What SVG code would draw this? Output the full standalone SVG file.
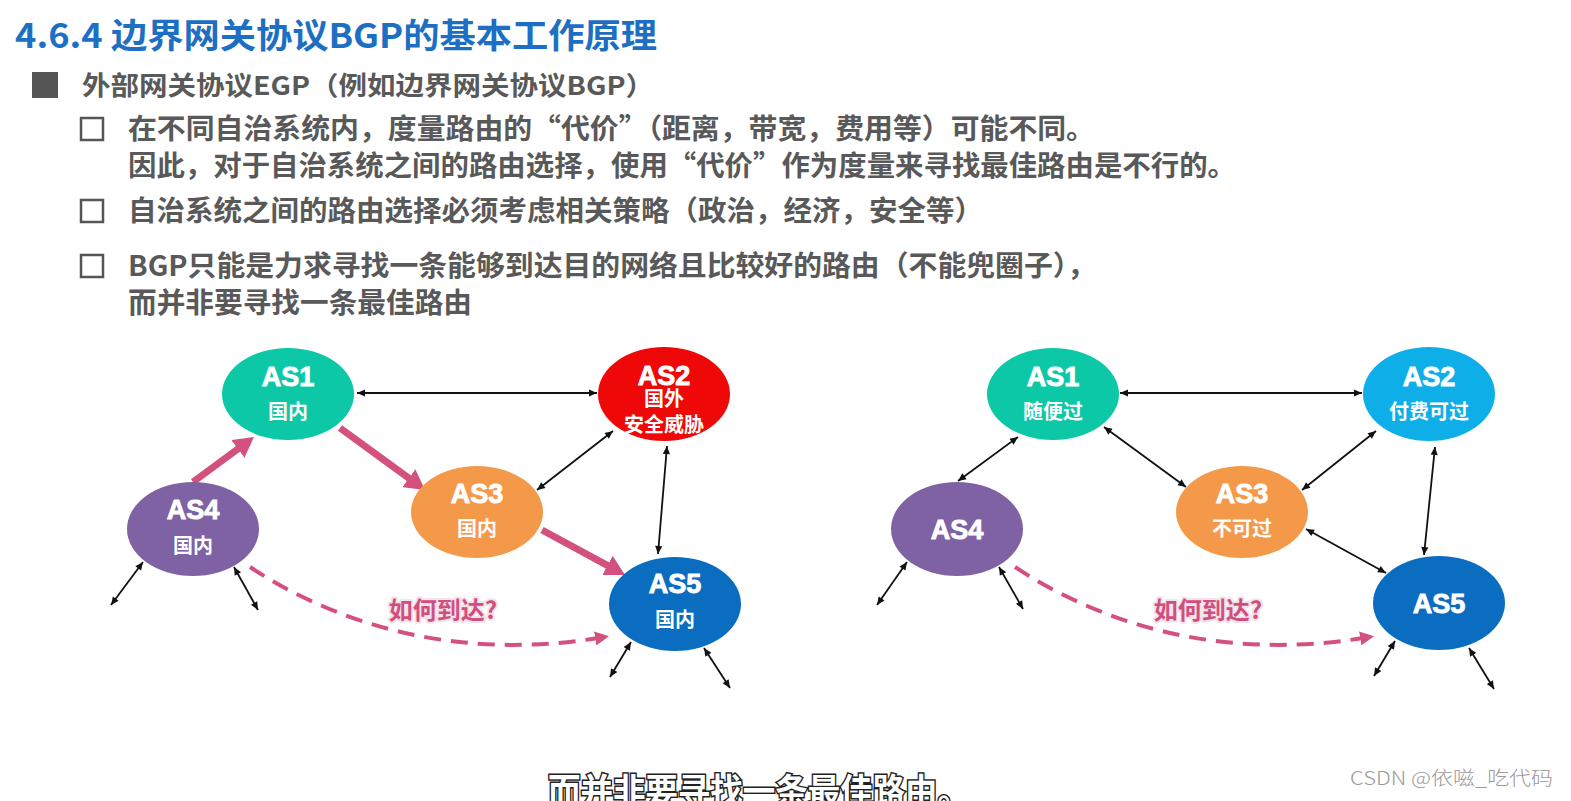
<svg xmlns="http://www.w3.org/2000/svg" width="1571" height="801" viewBox="0 0 1571 801">
<style>
.title{font-family:"Noto Sans CJK SC","Liberation Sans",sans-serif;font-weight:700;font-size:34px;fill:#1c6fc3}
.hdr{font-family:"Noto Sans CJK SC","Liberation Sans",sans-serif;font-weight:700;font-size:26px;fill:#595959}
.body{font-family:"Noto Sans CJK SC","Liberation Sans",sans-serif;font-weight:700;font-size:28px;fill:#595959}
.as{font-family:"Liberation Sans","Noto Sans CJK SC",sans-serif;font-weight:700;font-size:27px;fill:#fff;text-anchor:middle;stroke:#fff;stroke-width:0.9}
.sub{font-family:"Noto Sans CJK SC","Liberation Sans",sans-serif;font-weight:700;font-size:20px;fill:#fff;text-anchor:middle}
.ask{font-family:"Noto Sans CJK SC","Liberation Sans",sans-serif;font-weight:700;font-size:24px;fill:#d14f7f;text-anchor:middle;stroke:#f3e3ea;stroke-width:4;paint-order:stroke;stroke-linejoin:round}
.blk{stroke:#111;stroke-width:1.8;fill:none;marker-start:url(#ah);marker-end:url(#ah)}
.pink{stroke:#d4507e;stroke-width:7;fill:none;marker-end:url(#pk)}
.dash{stroke:#d4507e;stroke-width:4;fill:none;stroke-dasharray:17 10;marker-end:url(#pd)}
.box{fill:none;stroke:#555;stroke-width:2.5}
</style>
<defs>
<marker id="ah" viewBox="0 0 10 10" refX="10" refY="5" markerWidth="9" markerHeight="8" markerUnits="userSpaceOnUse" orient="auto-start-reverse"><path d="M0,0.5 L10,5 L0,9.5 z" fill="#111"/></marker>
<marker id="pk" viewBox="0 0 20 22" refX="2" refY="11" markerWidth="20" markerHeight="22" markerUnits="userSpaceOnUse" orient="auto"><path d="M0,0 L20,11 L0,22 z" fill="#d4507e"/></marker>
<marker id="pd" viewBox="0 0 10 10" refX="2" refY="5" markerWidth="14" markerHeight="14" markerUnits="userSpaceOnUse" orient="auto"><path d="M0,0 L10,5 L0,10 z" fill="#d4507e"/></marker>
</defs>
<rect width="1571" height="801" fill="#fff"/>

<g id="text">
<text class="title" x="15" y="48" textLength="642" lengthAdjust="spacingAndGlyphs">4.6.4 边界网关协议BGP的基本工作原理</text>
<rect x="32" y="72" width="26" height="26" fill="#555"/>
<text class="hdr" x="82" y="95" textLength="572" lengthAdjust="spacingAndGlyphs">外部网关协议EGP（例如边界网关协议BGP）</text>
<rect class="box" x="81" y="118" width="22" height="22"/>
<text class="body" x="128" y="139" textLength="967" lengthAdjust="spacingAndGlyphs">在不同自治系统内，度量路由的“代价”（距离，带宽，费用等）可能不同。</text>
<text class="body" x="128" y="176" textLength="1108" lengthAdjust="spacingAndGlyphs">因此，对于自治系统之间的路由选择，使用“代价”作为度量来寻找最佳路由是不行的。</text>
<rect class="box" x="81" y="200" width="22" height="22"/>
<text class="body" x="128" y="221" textLength="855" lengthAdjust="spacingAndGlyphs">自治系统之间的路由选择必须考虑相关策略（政治，经济，安全等）</text>
<rect class="box" x="81" y="255" width="22" height="22"/>
<text class="body" x="128" y="276" textLength="968" lengthAdjust="spacingAndGlyphs">BGP只能是力求寻找一条能够到达目的网络且比较好的路由（不能兜圈子），</text>
<text class="body" x="128" y="313" textLength="344" lengthAdjust="spacingAndGlyphs">而并非要寻找一条最佳路由</text>
</g>

<g id="connectors">
<line class="blk" x1="357" y1="393" x2="597" y2="393"/>
<line class="blk" x1="613" y1="431" x2="537" y2="490"/>
<line class="blk" x1="667" y1="446" x2="658" y2="554"/>
<line class="blk" x1="143" y1="562" x2="111" y2="605"/>
<line class="blk" x1="234" y1="567" x2="258" y2="610"/>
<line class="blk" x1="631" y1="642" x2="610" y2="677"/>
<line class="blk" x1="704" y1="648" x2="730" y2="688"/>
<line class="pink" x1="193" y1="482" x2="239.5" y2="447.7"/>
<line class="pink" x1="340" y1="428" x2="410.5" y2="479.4"/>
<line class="pink" x1="542" y1="530" x2="609.2" y2="566.4"/>
<path class="dash" d="M250,567 C330,620 450,662 598,638"/>

<line class="blk" x1="1120" y1="393" x2="1362" y2="393"/>
<line class="blk" x1="1018" y1="437" x2="958" y2="481"/>
<line class="blk" x1="1104" y1="427" x2="1186" y2="487"/>
<line class="blk" x1="1376" y1="431" x2="1302" y2="490"/>
<line class="blk" x1="1435" y1="447" x2="1424" y2="555"/>
<line class="blk" x1="1306" y1="529" x2="1386" y2="573"/>
<line class="blk" x1="907" y1="562" x2="877" y2="605"/>
<line class="blk" x1="999" y1="567" x2="1023" y2="609"/>
<line class="blk" x1="1395" y1="641" x2="1374" y2="676"/>
<line class="blk" x1="1469" y1="648" x2="1494" y2="689"/>
<path class="dash" d="M1015,567 C1095,620 1215,662 1363,638"/>
</g>

<g id="L-AS1"><ellipse cx="288" cy="394" rx="66" ry="46" fill="#0dc8a6"/><text class="as" x="288" y="386">AS1</text><text class="sub" x="288" y="419">国内</text></g>
<g id="L-AS2"><ellipse cx="664" cy="394" rx="66" ry="47" fill="#ee0808"/><text class="as" x="664" y="385">AS2</text><text class="sub" x="664" y="406">国外</text><text class="sub" x="664" y="432">安全威胁</text></g>
<g id="L-AS3"><ellipse cx="477" cy="512" rx="66" ry="46" fill="#f4994a"/><text class="as" x="477" y="503">AS3</text><text class="sub" x="477" y="536">国内</text></g>
<g id="L-AS4"><ellipse cx="193" cy="529" rx="66" ry="47" fill="#7f62a3"/><text class="as" x="193" y="519">AS4</text><text class="sub" x="193" y="553">国内</text></g>
<g id="L-AS5"><ellipse cx="675" cy="604" rx="66" ry="47" fill="#0b6dbf"/><text class="as" x="675" y="593">AS5</text><text class="sub" x="675" y="627">国内</text></g>
<g id="L-ask"><text class="ask" x="443" y="619">如何到达?</text></g>

<g id="R-AS1"><ellipse cx="1053" cy="394" rx="66" ry="46" fill="#0dc8a6"/><text class="as" x="1053" y="386">AS1</text><text class="sub" x="1053" y="419">随便过</text></g>
<g id="R-AS2"><ellipse cx="1429" cy="394" rx="66" ry="47" fill="#0eafe9"/><text class="as" x="1429" y="386">AS2</text><text class="sub" x="1429" y="419">付费可过</text></g>
<g id="R-AS3"><ellipse cx="1242" cy="512" rx="66" ry="46" fill="#f4994a"/><text class="as" x="1242" y="503">AS3</text><text class="sub" x="1242" y="536">不可过</text></g>
<g id="R-AS4"><ellipse cx="957" cy="529" rx="66" ry="47" fill="#7f62a3"/><text class="as" x="957" y="539">AS4</text></g>
<g id="R-AS5"><ellipse cx="1439" cy="603" rx="66" ry="47" fill="#0b6dbf"/><text class="as" x="1439" y="613">AS5</text></g>
<g id="R-ask"><text class="ask" x="1208" y="619">如何到达?</text></g>

<g id="caption">
<text x="548" y="804" textLength="422" lengthAdjust="spacingAndGlyphs" style="font-family:'Noto Sans CJK SC',sans-serif;font-weight:700;font-size:35px;fill:#fff;stroke:#222;stroke-width:3;paint-order:stroke">而并非要寻找一条最佳路由。</text>
<text x="1350" y="785" textLength="203" lengthAdjust="spacingAndGlyphs" style="font-family:'Noto Sans CJK SC','Liberation Sans',sans-serif;font-weight:300;font-size:19px;fill:#9a9a9a">CSDN @依嗞_吃代码</text>
</g>
</svg>
